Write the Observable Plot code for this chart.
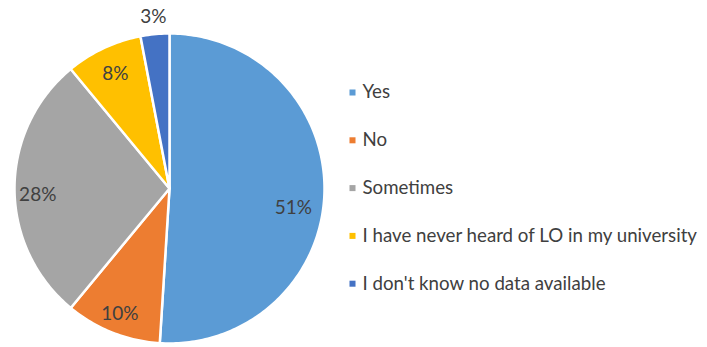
<!DOCTYPE html>
<html>
<head>
<meta charset="utf-8">
<script src="https://cdn.jsdelivr.net/npm/d3@7"></script>
<script src="https://cdn.jsdelivr.net/npm/@observablehq/plot@0.6"></script>
<style>
  html, body { margin: 0; padding: 0; background: #ffffff; }
  #chart svg { display: block; }
</style>
</head>
<body>
<div id="chart"></div>
<script>
// ---- data ----
const categories = ["Yes", "No", "Sometimes", "I have never heard of LO in my university", "I don't know no data available"];
const values = [51, 10, 28, 8, 3];
const labels = ["51%", "10%", "28%", "8%", "3%"];
const colors = ["#5B9BD5", "#ED7D31", "#A5A5A5", "#FFC000", "#4472C4"];

// ---- layout (pixels) ----
const W = 707, H = 347;
const cx = 169, cy = 188, R = 155;
const toX = px => (px - cx) / R;
const toY = py => (cy - py) / R;
// Excel "best fit" label placement: radial fraction and vertical nudge per slice
const labelRadius = [0.80, 0.87, 0.85, 0.82, 1.11];
const labelNudge = [16, 0, 6, 0, 0];

// pie geometry derived from values
const arcs = d3.pie().sort(null).value(d => d)(values);
const slicePts = [];
arcs.forEach((a, i) => {
  slicePts.push({cat: categories[i], x: 0, y: 0});
  const n = Math.max(2, Math.ceil((a.endAngle - a.startAngle) / (Math.PI / 180)));
  for (let k = 0; k <= n; k++) {
    const t = a.startAngle + (a.endAngle - a.startAngle) * k / n;
    slicePts.push({cat: categories[i], x: Math.sin(t), y: Math.cos(t)});
  }
});
const labelPts = arcs.map((a, i) => {
  const m = (a.startAngle + a.endAngle) / 2;
  const rr = labelRadius[i];
  return {label: labels[i], x: Math.sin(m) * rr, y: Math.cos(m) * rr - labelNudge[i] / R};
});
const legendRows = categories.map((c, i) => ({cat: c, i}));
const legendTop = 92, legendStep = 47.8;

const font = "Lato, 'Open Sans', sans-serif";

const chart = Plot.plot({
  width: W,
  height: H,
  margin: 0,
  x: {domain: [toX(0), toX(W)], axis: null},
  y: {domain: [toY(H), toY(0)], axis: null},
  color: {domain: categories, range: colors},
  style: {background: "#ffffff", fontFamily: font},
  marks: [
    Plot.line(slicePts, {
      x: "x", y: "y", z: "cat", fill: "cat",
      stroke: "#ffffff", strokeWidth: 2.5, strokeLinejoin: "round",
      curve: "linear-closed"
    }),
    Plot.text(labelPts, {
      x: "x", y: "y", text: "label",
      fontSize: 19, fill: "#404040", fontFamily: font
    }),
    Plot.dot(legendRows, {
      x: () => toX(352), y: d => toY(legendTop + d.i * legendStep),
      fill: "cat", symbol: "square", r: 3.4, stroke: "none"
    }),
    Plot.text(legendRows, {
      x: () => toX(362), y: d => toY(legendTop + d.i * legendStep),
      text: "cat", textAnchor: "start", fontSize: 18.7, fill: "#404040", fontFamily: font
    })
  ]
});
document.getElementById("chart").appendChild(chart);
</script>
</body>
</html>
